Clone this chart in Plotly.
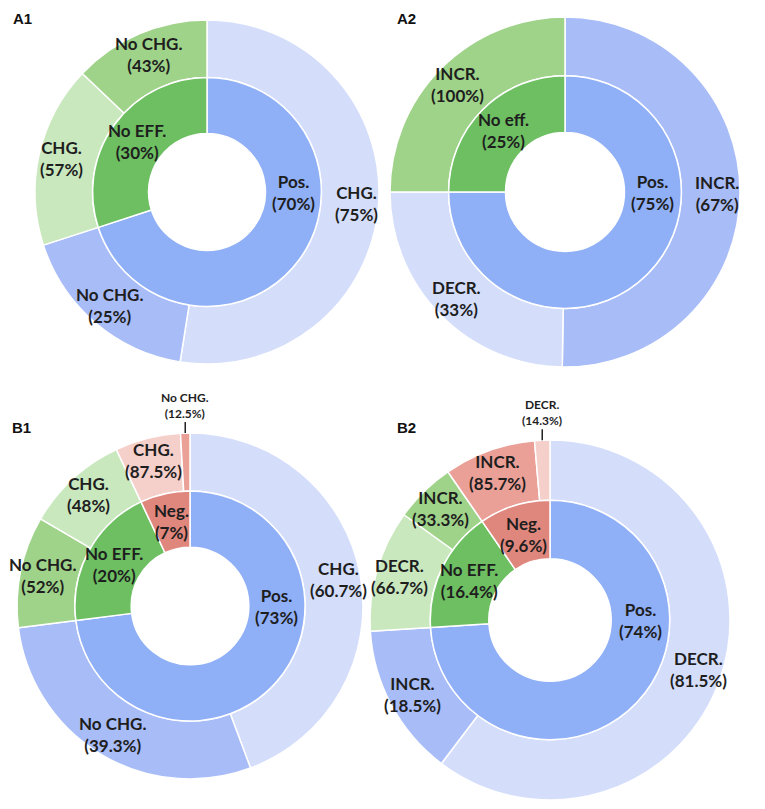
import math
import plotly.graph_objects as go

# ---- data ----
# inner ring: share of all cases (%)
# outer ring: share inside the parent slice (%)
a1_inner_labels = ["Pos.", "No EFF."]
a1_inner_values = [70, 30]
a1_outer_labels = ["CHG.", "No CHG.", "CHG.", "No CHG."]
a1_outer_parents = ["Pos.", "Pos.", "No EFF.", "No EFF."]
a1_outer_shares = [75, 25, 57, 43]

a2_inner_labels = ["Pos.", "No eff."]
a2_inner_values = [75, 25]
a2_outer_labels = ["INCR.", "DECR.", "INCR."]
a2_outer_parents = ["Pos.", "Pos.", "No eff."]
a2_outer_shares = [67, 33, 100]

b1_inner_labels = ["Pos.", "No EFF.", "Neg."]
b1_inner_values = [73, 20, 7]
b1_outer_labels = ["CHG.", "No CHG.", "No CHG.", "CHG.", "CHG.", "No CHG."]
b1_outer_parents = ["Pos.", "Pos.", "No EFF.", "No EFF.", "Neg.", "Neg."]
b1_outer_shares = [60.7, 39.3, 52, 48, 87.5, 12.5]

b2_inner_labels = ["Pos.", "No EFF.", "Neg."]
b2_inner_values = [74, 16.4, 9.6]
b2_outer_labels = ["DECR.", "INCR.", "DECR.", "INCR.", "INCR.", "DECR."]
b2_outer_parents = ["Pos.", "Pos.", "No EFF.", "No EFF.", "Neg.", "Neg."]
b2_outer_shares = [81.5, 18.5, 66.7, 33.3, 85.7, 14.3]

# ---- layout / style ----
PAGE_PAD = 8                      # body margin of the html page
W, H = 765 - 2 * PAGE_PAD, 809 - 2 * PAGE_PAD

# centre x, centre y, outer radius (px, in page coordinates)
placement = {
    "A1": (207, 192, 172),
    "A2": (565, 192, 175),
    "B1": (190, 606, 173),
    "B2": (550, 620, 180),
}
panel_pos = {"A1": (11, 18), "A2": (395, 18), "B1": (10, 427), "B2": (395, 427)}

RING_SPLIT = 0.665   # inner ring outer radius / outer radius
HOLE = 0.34          # white hole radius / outer radius
INNER_TEXT_R = 0.50
OUTER_TEXT_R = 0.87

inner_colors = {"pos.": "#8FAFF7", "no eff.": "#6DBF62", "neg.": "#E0877D"}
# (light, medium) shade of the outer ring per parent
outer_colors = {
    "pos.": ("#D4DEFB", "#A8BCF8"),
    "no eff.": ("#C9E8BE", "#9FD389"),
    "neg.": ("#F5CFCA", "#EBA097"),
}
light_labels = {"CHG.", "DECR."}

FONT = "Lato, 'Open Sans', sans-serif"
TEXT_COL = "#1E1E1E"

fig = go.Figure()


def to_paper(px, py):
    return (px - PAGE_PAD) / W, 1 - (py - PAGE_PAD) / H


def dom(cx, cy, rad):
    x0, y0 = to_paper(cx - rad, cy + rad)
    x1, y1 = to_paper(cx + rad, cy - rad)
    return dict(x=[max(x0, 0), min(x1, 1)], y=[max(y0, 0), min(y1, 1)])


def mid_angles(values):
    # clockwise from 12 o'clock, radians
    total = sum(values)
    out, cum = [], 0
    for v in values:
        out.append(2 * math.pi * (cum + v / 2) / total)
        cum += v
    return out


def label(cx, cy, rad, theta, text, size=17):
    x, y = to_paper(cx + rad * math.sin(theta), cy - rad * math.cos(theta))
    fig.add_annotation(x=x, y=y, xref="paper", yref="paper", showarrow=False,
                       xanchor="center", yanchor="middle", text=text,
                       font=dict(family=FONT, size=size, color=TEXT_COL))


def add_donut(name, inner_labels, inner_values, outer_labels, outer_parents, outer_shares):
    cx, cy, r = placement[name]
    parent_val = dict(zip(inner_labels, inner_values))
    outer_values = [parent_val[p] * s / 100 for p, s in zip(outer_parents, outer_shares)]
    total = sum(outer_values)
    outer_cols = [outer_colors[p.lower()][0 if l in light_labels else 1]
                  for l, p in zip(outer_labels, outer_parents)]

    fig.add_trace(go.Pie(
        labels=[f"{name}-{i}" for i in range(len(outer_values))],
        values=outer_values,
        textinfo="none",
        sort=False,
        direction="clockwise",
        hole=RING_SPLIT,
        domain=dom(cx, cy, r),
        marker=dict(colors=outer_cols, line=dict(color="white", width=1.5)),
        hoverinfo="skip",
        showlegend=False,
    ))

    fig.add_trace(go.Pie(
        labels=[f"{name}-in-{l}" for l in inner_labels],
        values=inner_values,
        textinfo="none",
        sort=False,
        direction="clockwise",
        hole=HOLE / RING_SPLIT,
        domain=dom(cx, cy, r * RING_SPLIT),
        marker=dict(colors=[inner_colors[l.lower()] for l in inner_labels],
                    line=dict(color="white", width=1.5)),
        hoverinfo="skip",
        showlegend=False,
    ))

    # inner ring labels; the big slice gets its label at 3 o'clock
    for l, v, th in zip(inner_labels, inner_values, mid_angles(inner_values)):
        if v / sum(inner_values) > 0.5:
            th = math.pi / 2
        label(cx, cy, r * INNER_TEXT_R, th, f"<b>{l}<br>({v:g}%)</b>")

    # outer ring labels; tiny slices get theirs above the ring with a leader line
    for l, s, v, th in zip(outer_labels, outer_shares, outer_values, mid_angles(outer_values)):
        text = f"<b>{l}<br>({s:g}%)</b>"
        if v / total < 0.02:
            x, y = to_paper(cx + r * math.sin(th), cy - r * math.cos(th))
            fig.add_annotation(
                x=x, y=y, xref="paper", yref="paper", text=text,
                font=dict(family=FONT, size=12, color=TEXT_COL),
                showarrow=True, arrowhead=0, arrowwidth=1.5, arrowcolor="#222222",
                ax=0, ay=-28, standoff=0,
            )
        else:
            label(cx, cy, r * OUTER_TEXT_R, th, text)


add_donut("A1", a1_inner_labels, a1_inner_values, a1_outer_labels, a1_outer_parents, a1_outer_shares)
add_donut("A2", a2_inner_labels, a2_inner_values, a2_outer_labels, a2_outer_parents, a2_outer_shares)
add_donut("B1", b1_inner_labels, b1_inner_values, b1_outer_labels, b1_outer_parents, b1_outer_shares)
add_donut("B2", b2_inner_labels, b2_inner_values, b2_outer_labels, b2_outer_parents, b2_outer_shares)

# panel letters
for name, (px, py) in panel_pos.items():
    x, y = to_paper(px, py)
    fig.add_annotation(
        x=x, y=y, xref="paper", yref="paper",
        xanchor="left", yanchor="middle", showarrow=False,
        text=f"<b>{name}</b>",
        font=dict(family="Liberation Sans, Arial, sans-serif", size=15, color="#111111"),
    )

fig.update_layout(
    width=W, height=H,
    margin=dict(l=0, r=0, t=0, b=0),
    paper_bgcolor="white",
    plot_bgcolor="white",
)

fig.write_html("out.html")
